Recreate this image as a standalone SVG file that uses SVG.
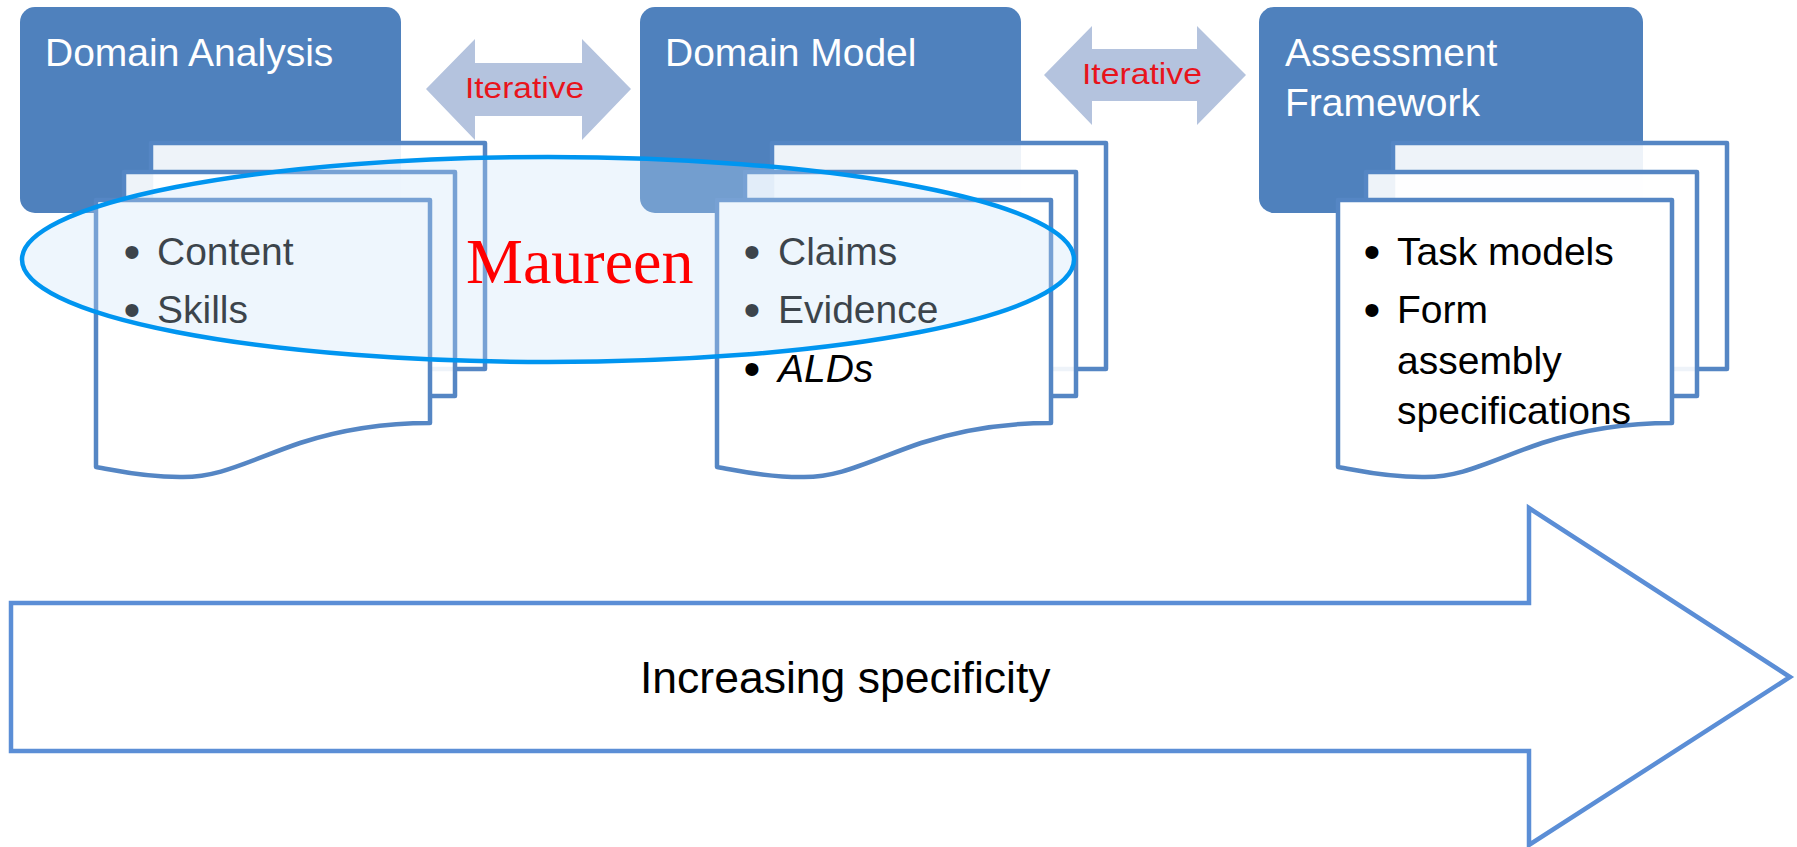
<svg xmlns="http://www.w3.org/2000/svg" width="1797" height="847" viewBox="0 0 1797 847">
<defs>
<style>
.box{fill:#4f81bd}
.title{font-family:"Liberation Sans",Arial,sans-serif;font-size:39px;fill:#ffffff}
.sheet{fill:#ffffff;stroke:#5586c4;stroke-width:4.5;stroke-linejoin:round}
.sheet-under{fill:#ffffff;fill-opacity:0.9;stroke:#5586c4;stroke-width:4.5;stroke-linejoin:round}
.item{font-family:"Liberation Sans",Arial,sans-serif;font-size:39px;fill:#000000}
.bullet{font-family:"Liberation Sans",Arial,sans-serif;font-size:48px;fill:#000000;text-anchor:middle}
.iter{fill:#b4c3de}
.iter-t{font-family:"Liberation Sans",Arial,sans-serif;font-size:30px;fill:#e8141c}
.big{fill:#ffffff;stroke:#5b8ed6;stroke-width:4.5;stroke-linejoin:miter}
.big-t{font-family:"Liberation Sans",Arial,sans-serif;font-size:44.5px;fill:#000000}
.halo{fill:#c8e2fa;fill-opacity:0.3;stroke:#0095f0;stroke-width:4.5}
.halo-t{font-family:"Liberation Serif","Times New Roman",serif;font-size:64px;fill:#ff0000}
</style>
</defs>
<rect x="0" y="0" width="1797" height="847" fill="#ffffff"/>

<g id="node-domain-analysis">
<rect class="box" x="20" y="7" width="381" height="206" rx="15"/>
<text class="title" x="45" y="66">Domain Analysis</text>
<g transform="translate(96,0)">
<rect class="sheet-under" x="55" y="143" width="334" height="226"/>
<rect class="sheet-under" x="28" y="172" width="331" height="224"/>
<path class="sheet" d="M0,200 H334 V423 C284,423 244,430 204,443 C154,460 124,478 84,477 C44,477 19,470 0,467 Z"/>
</g>
<text class="bullet" x="132" y="268">•</text>
<text class="item" x="157" y="265">Content</text>
<text class="bullet" x="132" y="326">•</text>
<text class="item" x="157" y="323">Skills</text>
</g>

<g id="node-domain-model">
<rect class="box" x="640" y="7" width="381" height="206" rx="15"/>
<text class="title" x="665" y="66">Domain Model</text>
<g transform="translate(717,0)">
<rect class="sheet-under" x="55" y="143" width="334" height="226"/>
<rect class="sheet-under" x="28" y="172" width="331" height="224"/>
<path class="sheet" d="M0,200 H334 V423 C284,423 244,430 204,443 C154,460 124,478 84,477 C44,477 19,470 0,467 Z"/>
</g>
<text class="bullet" x="752" y="268">•</text>
<text class="item" x="778" y="265">Claims</text>
<text class="bullet" x="752" y="326">•</text>
<text class="item" x="778" y="323">Evidence</text>
<text class="bullet" x="752" y="385">•</text>
<text class="item" x="778" y="382" font-style="italic">ALDs</text>
</g>

<g id="node-assessment-framework">
<rect class="box" x="1259" y="7" width="384" height="206" rx="15"/>
<text class="title" x="1285" y="66">Assessment</text>
<text class="title" x="1285" y="116">Framework</text>
<g transform="translate(1338,0)">
<rect class="sheet-under" x="55" y="143" width="334" height="226"/>
<rect class="sheet-under" x="28" y="172" width="331" height="224"/>
<path class="sheet" d="M0,200 H334 V423 C284,423 244,430 204,443 C154,460 124,478 84,477 C44,477 19,470 0,467 Z"/>
</g>
<text class="bullet" x="1372" y="268">•</text>
<text class="item" x="1397" y="265">Task models</text>
<text class="bullet" x="1372" y="326">•</text>
<text class="item" x="1397" y="323">Form</text>
<text class="item" x="1397" y="374">assembly</text>
<text class="item" x="1397" y="424">specifications</text>
</g>

<g id="connectors">
<g id="iterative-1">
<polygon class="iter" points="426,89 475,39 475,63 582,63 582,39 631,89 582,140 582,116 475,116 475,140"/>
<text class="iter-t" x="465" y="98" textLength="119" lengthAdjust="spacingAndGlyphs">Iterative</text>
</g>
<g id="iterative-2">
<polygon class="iter" points="1044,75 1092,26 1092,49 1197,49 1197,26 1246,75 1197,125 1197,101 1092,101 1092,125"/>
<text class="iter-t" x="1082" y="84" textLength="120" lengthAdjust="spacingAndGlyphs">Iterative</text>
</g>
</g>

<g id="node-maureen">
<ellipse class="halo" cx="548" cy="259.5" rx="526" ry="102.5"/>
<text class="halo-t" x="466" y="283">Maureen</text>
</g>

<g id="node-increasing-specificity">
<polygon class="big" points="11,603 1529,603 1529,508 1790,677 1529,845 1529,751 11,751"/>
<text class="big-t" x="640" y="693">Increasing specificity</text>
</g>
</svg>
